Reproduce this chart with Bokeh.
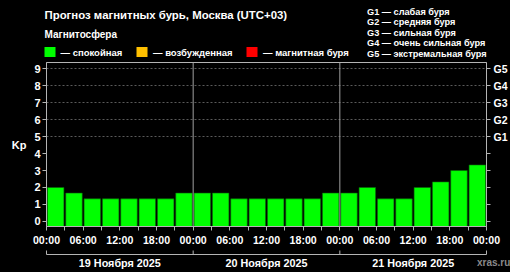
from bokeh.plotting import figure
from bokeh.layouts import column
from bokeh.models import FixedTicker, LinearAxis, Range1d, Span
from bokeh.core.properties import value
from bokeh.embed import file_html
from bokeh.resources import INLINE

# ---- data ----
kp_values = [2.0, 1.67, 1.33, 1.33, 1.33, 1.33, 1.33, 1.67,
             1.67, 1.67, 1.33, 1.33, 1.33, 1.33, 1.33, 1.67,
             1.67, 2.0, 1.33, 1.33, 2.0, 2.33, 3.0, 3.33]
hours = [1.5 + 3 * i for i in range(24)]
day_starts = [0, 24, 48]
day_ends = [24, 48, 72]
day_labels = ["19 Ноября 2025", "20 Ноября 2025", "21 Ноября 2025"]
g_levels = [5, 6, 7, 8, 9]
g_labels = ["G1", "G2", "G3", "G4", "G5"]
g_legend = ["G1 — слабая буря", "G2 — средняя буря", "G3 — сильная буря",
            "G4 — очень сильная буря", "G5 — экстремальная буря"]
state_labels = ["— спокойная", "— возбужденная", "— магнитная буря"]
state_colors = ["#00ff00", "#ffc000", "#ff0000"]

W = 510
HEAD_H, MAIN_H, FOOT_H = 62, 186, 24
FL, FR = 46, 24
FONT = "Liberation Sans"
GRAY = "#b4b4b4"


def bare(fig):
    fig.xaxis.visible = False
    fig.yaxis.visible = False
    fig.xgrid.visible = False
    fig.ygrid.visible = False
    fig.frame_align = False
    return fig


# ---- header ----
head = bare(figure(width=W, height=HEAD_H, output_backend="svg", toolbar_location=None,
                   x_range=Range1d(0, W), y_range=Range1d(HEAD_H, 0),
                   min_border=0, background_fill_color="black",
                   border_fill_color="black", outline_line_color=None))


def htext(fig, x, y, text, size, color="white", align="left"):
    fig.text(x=[x], y=[y], text=[text], text_font=value(FONT), text_font_size=size,
             text_font_style="bold", text_color=color, text_align=align,
             text_baseline="middle")


htext(head, 44, 14, "Прогноз магнитных бурь, Москва (UTC+03)", "11.4px")
htext(head, 44, 34, "Магнитосфера", "10px")
sq_x = [44, 136, 246]
tx_x = [60, 152.5, 262.5]
head.quad(left=sq_x, right=[s + 11 for s in sq_x], top=[46.5] * 3, bottom=[56.5] * 3,
          fill_color=state_colors, line_color=None)
head.text(x=tx_x, y=[51.5] * 3, text=state_labels, text_font=value(FONT),
          text_font_size="9.5px", text_font_style="bold", text_color="white",
          text_baseline="middle")
head.text(x=[366.5] * 5, y=[11 + 10.6 * i for i in range(5)], text=g_legend,
          text_font=value(FONT), text_font_size="9.2px", text_font_style="bold",
          text_color="white", text_baseline="middle")

# ---- main chart ----
p = bare(figure(width=W, height=MAIN_H, output_backend="svg", toolbar_location=None,
                x_range=Range1d(0, 72), y_range=Range1d(-0.3, 9.37),
                min_border_left=FL, min_border_right=FR, min_border_top=0,
                min_border_bottom=MAIN_H - 165, background_fill_color="black",
                border_fill_color="black", outline_line_color=GRAY))
p.ygrid.visible = True
p.ygrid.ticker = FixedTicker(ticks=g_levels)
p.ygrid.grid_line_color = "#5a5a5a"
p.ygrid.grid_line_dash = "2 2"


def style_axis(ax, size="11px"):
    ax.axis_line_color = GRAY
    ax.major_tick_line_color = GRAY
    ax.minor_tick_line_color = GRAY
    ax.major_tick_in = 0
    ax.minor_tick_in = 0
    ax.major_label_text_color = "white"
    ax.major_label_text_font = FONT
    ax.major_label_text_font_style = "bold"
    ax.major_label_text_font_size = size


left = LinearAxis(ticker=FixedTicker(ticks=list(range(10))))
style_axis(left)
left.major_tick_out = 4
left.major_label_standoff = 2
left.axis_label = "Kp"
left.axis_label_orientation = "horizontal"
left.axis_label_text_color = "white"
left.axis_label_text_font = FONT
left.axis_label_text_font_style = "bold"
left.axis_label_text_font_size = "11px"
left.axis_label_standoff = 5
p.add_layout(left, "left")

right = LinearAxis(ticker=FixedTicker(ticks=list(range(10))))
style_axis(right, "10.5px")
right.major_tick_out = 4
right.major_label_standoff = 3
overrides = {i: "" for i in range(5)}
overrides.update({lv: lb for lv, lb in zip(g_levels, g_labels)})
right.major_label_overrides = overrides
p.add_layout(right, "right")

majors = list(range(0, 73, 6))
minors = list(range(3, 72, 6))
bottom = LinearAxis(ticker=FixedTicker(ticks=majors, minor_ticks=minors))
style_axis(bottom, "10.6px")
bottom.major_tick_out = 4
bottom.minor_tick_out = 4
bottom.major_label_standoff = 3
bottom.major_label_overrides = {h: "%02d:00" % (h % 24) for h in majors}
p.add_layout(bottom, "below")

p.vbar(x=hours, top=kp_values, bottom=-0.3, width=2.7,
       fill_color="#00ff00", line_color="#0b5f0b", line_width=0.6)

for d in day_starts[1:]:
    p.add_layout(Span(location=d, dimension="height", line_color="#a0a0a0", line_width=1))

# ---- footer with day brackets (same hour scale as the main chart) ----
frame_w = W - FL - FR
px_per_h = frame_w / 72.0
foot = bare(figure(width=W, height=FOOT_H, output_backend="svg", toolbar_location=None,
                   x_range=Range1d(-FL / px_per_h, 72 + FR / px_per_h),
                   y_range=Range1d(FOOT_H, 0), min_border=0,
                   background_fill_color="black", border_fill_color="black",
                   outline_line_color=None))
foot.segment(x0=[day_starts[0]], x1=[day_ends[-1]], y0=[6], y1=[6],
             line_color=GRAY, line_width=1)
bounds = day_starts + [day_ends[-1]]
foot.segment(x0=bounds, x1=bounds, y0=[2] * len(bounds), y1=[6] * len(bounds),
             line_color=GRAY, line_width=1)
foot.text(x=[(a + b) / 2 for a, b in zip(day_starts, day_ends)], y=[14] * 3,
          text=day_labels, text_font=value(FONT), text_font_size="10.8px",
          text_font_style="bold", text_color="white", text_align="center",
          text_baseline="middle")
foot.text(x=[(476.5 - FL) / px_per_h], y=[14], text=["xras.ru"], text_font=value(FONT),
          text_font_size="10px", text_font_style="bold", text_color="#8a8a8a",
          text_baseline="middle")

layout = column(head, p, foot, spacing=0, background="black")
open("out.html", "w").write(file_html(layout, INLINE))
